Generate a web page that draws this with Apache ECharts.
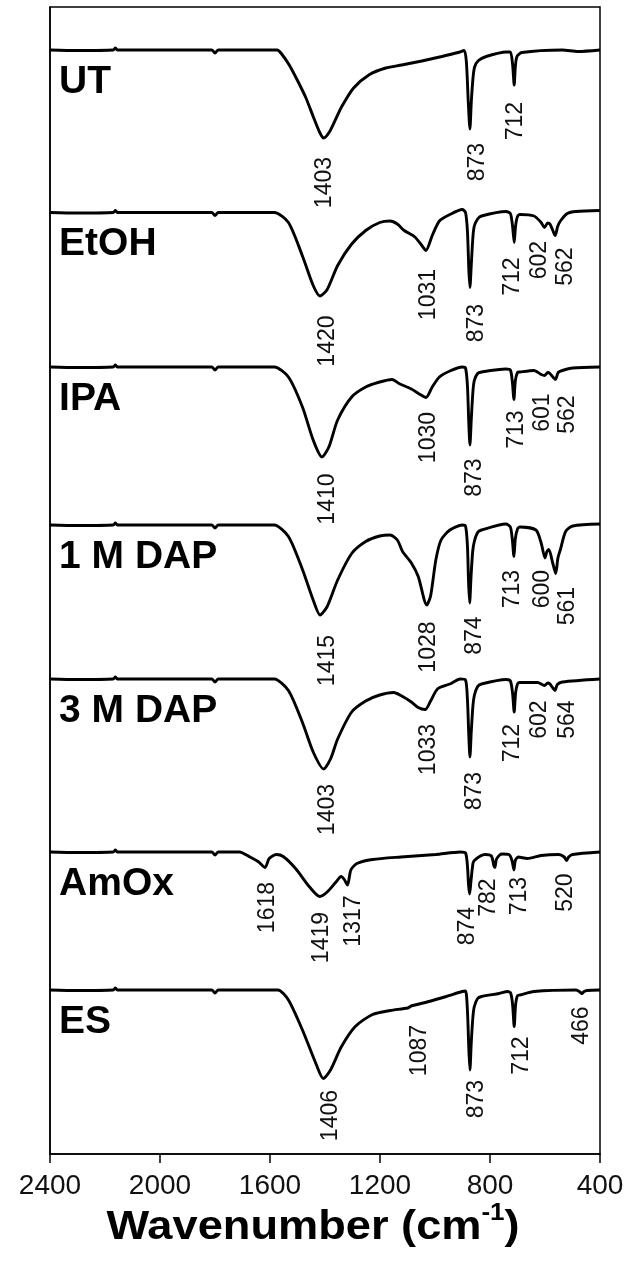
<!DOCTYPE html>
<html>
<head>
<meta charset="utf-8">
<script src="https://cdn.jsdelivr.net/npm/echarts@6/dist/echarts.min.js"></script>
<style>
html,body{margin:0;padding:0;background:#fff;}
#chart{width:630px;height:1266px;}
</style>
</head>
<body>
<div id="chart"></div>
<script>
// ---- data ----
const categories = ['UT', 'EtOH', 'IPA', '1 M DAP', '3 M DAP', 'AmOx', 'ES'];
// vertical offset of each trace (arbitrary transmittance units)
const offsets = [1104, 941.5, 787, 629, 475, 302, 164];
const xTicks = [2400, 2000, 1600, 1200, 800, 400];

// shared flat head of every spectrum: [wavenumber, absorption depth]
const commonHead = [[2400,0],[2300,0.5],[2170,0],[2162,-2],[2155,0],[1812,0],[1800,3],[1788,0]];

const specUT = [[1600,0],[1574,0],[1559,3.5],[1530,15],[1501,30],[1470,47.5],[1443,66.5],[1420,82],[1405,88],[1384,82],[1360,68.5],[1340,57],[1296,38],[1238,24.5],[1179,18],[1121,15],[1048,11],[975,6.5],[916,2.5],[894,0.5],[886,11.5],[879,52],[873,79],[868,52],[862,28.5],[856,17],[842,10.5],[814,6.5],[741,2],[726,2],[718,14],[712,35],[708,17],[702,6.5],[684,2.5],[537,0],[480,1.5],[400,0]];
const specEtOH = [[1600,0],[1584,0],[1533,10],[1482,43.5],[1443,73],[1418,83.5],[1392,77],[1354,53],[1303,31.5],[1252,18],[1201,10],[1163,8.5],[1137,11.5],[1112,18],[1073,24.5],[1048,33],[1033,38],[1010,23],[984,8.5],[946,2],[901,-3],[889,0],[882,19],[877,57],[873,75],[868,52],[862,24],[857,13.5],[845,6.5],[831,3.5],[742,-1],[726,1],[718,13.5],[712,30],[707,13.5],[700,4],[691,2],[640,3.5],[614,10],[602,15],[590,10.5],[582,11.5],[570,19],[563,23],[554,14],[544,8.5],[519,1],[487,-1],[400,-2]];
const specIPA = [[1600,0],[1584,0],[1533,10],[1482,40],[1443,73],[1411,90],[1386,80],[1354,53],[1303,30],[1252,20],[1201,15],[1156,12.5],[1131,16.5],[1086,22],[1054,27.5],[1033,30.5],[1010,20],[984,10],[946,4],[901,0],[889,1],[882,19],[877,57],[873,78],[868,52],[862,24],[857,13.5],[845,6.5],[831,5],[742,2],[726,3],[719,14],[713,32.5],[708,14],[700,5.5],[691,5],[640,3.5],[614,7.5],[601,8.5],[590,5.5],[582,6.5],[570,10.5],[562,12.5],[552,5.5],[537,3.5],[499,1],[400,0]];
const specDAP1 = [[1600,0],[1584,0],[1533,11.5],[1482,44.5],[1443,75],[1418,90],[1392,81.5],[1354,55],[1303,28.5],[1252,16.5],[1201,11],[1163,10],[1137,15],[1118,26.5],[1086,38],[1061,51.5],[1030,80],[1016,71],[997,35],[978,15],[946,5],[901,0],[889,1],[882,21],[878,57],[874,78],[869,52],[863,26.5],[857,16.5],[845,7.5],[831,5],[742,-1],[726,2],[719,14],[713,31.5],[708,14],[700,4],[691,2],[633,5],[614,18],[600,33],[593,26.5],[586,24.5],[572,38],[561,48.5],[553,33],[544,24.5],[525,6.5],[499,1],[400,-1]];
const specDAP3 = [[1600,0],[1584,0],[1533,11.5],[1482,43.5],[1443,73],[1405,90],[1380,80],[1354,60],[1303,33],[1252,22],[1201,16],[1150,13.5],[1124,16.5],[1086,23],[1061,28.5],[1036,30.5],[1016,22],[991,10],[946,5],[908,0],[889,1],[882,21],[877,57],[873,78],[868,52],[862,26.5],[857,16.5],[845,7.5],[831,5],[742,0.5],[726,2],[718,14],[712,33],[707,14],[700,5],[691,3.5],[627,3.5],[602,6.5],[590,4],[582,5],[570,9.5],[564,11.5],[555,5.5],[537,3],[400,0]];
const specAmOx = [[1711,0],[1673,5],[1641,10],[1618,15.5],[1603,6.5],[1577,2.5],[1552,4.5],[1507,16.5],[1456,35],[1419,44.5],[1392,40],[1360,30],[1341,24.5],[1330,27.5],[1318,33],[1306,18],[1284,11.5],[1227,7.5],[1124,5],[997,2.5],[908,0],[889,1],[882,14],[878,33],[874,42],[869,28.5],[862,11.5],[857,8.5],[835,4],[818,2.5],[795,4],[786,13.5],[782,15.5],[777,7.5],[765,3],[755,2],[731,2.5],[720,8.5],[713,18],[708,8.5],[697,5],[665,6.5],[614,3.5],[550,2.5],[530,5],[522,8.5],[514,5],[500,2.5],[400,0]];
const specES = [[1600,0],[1571,0],[1533,10],[1482,40],[1431,75],[1406,88.5],[1380,80],[1341,57],[1290,36.5],[1227,24.5],[1163,20.5],[1099,18],[1087,16],[1022,11.5],[959,6.5],[901,1.5],[889,1],[882,21],[877,59],[873,80],[868,52],[862,26.5],[857,16.5],[845,8.5],[831,6.5],[767,3.5],[735,1.5],[725,3],[718,14],[712,36.5],[707,15],[700,5.5],[691,5],[640,1.5],[487,0],[475,1.5],[466,3.5],[458,1.5],[447,0.5],[400,0]];

// peak labels: [label wavenumber, label-top depth below baseline, text]
const peaksUT = [[1400,107,'1403'],[846,93,'873'],[705,52,'712']];
const peaksEtOH = [[1392,103,'1420'],[1022,56.5,'1031'],[850,91.5,'873'],[716,45,'712'],[621,28.5,'602'],[525,35,'562']];
const peaksIPA = [[1392,106.5,'1410'],[1022,45,'1030'],[857,91.5,'873'],[704,43.5,'713'],[608,26.5,'601'],[519,28.5,'562']];
const peaksDAP1 = [[1392,110,'1415'],[1022,96.5,'1028'],[857,91.5,'874'],[716,45,'713'],[608,45,'600'],[519,62,'561']];
const peaksDAP3 = [[1392,105,'1403'],[1022,45,'1033'],[857,93,'873'],[716,45,'712'],[621,21.5,'602'],[519,21.5,'564']];
const peaksAmOx = [[1609,30,'1618'],[1411,60,'1419'],[1297,43.5,'1317'],[882,55,'874'],[806,26.5,'782'],[691,25,'713'],[525,21.5,'520']];
const peaksES = [[1380,100,'1406'],[1054,35,'1087'],[850,90,'873'],[684,46.5,'712'],[468,16.5,'466']];

const spectra = [specUT, specEtOH, specIPA, specDAP1, specDAP3, specAmOx, specES];
const peaks = [peaksUT, peaksEtOH, peaksIPA, peaksDAP1, peaksDAP3, peaksAmOx, peaksES];
const nameDepth = 32; // sample-name label centre below baseline

// ---- build ----
const FONT = 'Liberation Sans, Arial, Helvetica, sans-serif';
const series = [];
categories.forEach((name, i) => {
  const off = offsets[i];
  const pts = commonHead.concat(spectra[i]).map(p => [p[0], off - p[1]]);
  series.push({
    type: 'line', name: name, data: pts, showSymbol: false, symbol: 'none',
    smooth: 0.25, lineStyle: {color: '#000', width: 2.9}, silent: true, z: 3
  });
  series.push({
    type: 'scatter', data: peaks[i].map(p => [p[0], off - p[1], p[2]]),
    symbolSize: 0, silent: true, z: 4, itemStyle: {color: '#000', opacity: 1},
    label: {
      show: true, position: 'inside', rotate: 90, align: 'right', verticalAlign: 'middle',
      formatter: p => p.value[2], color: '#111', fontSize: 23, textBorderWidth: 0,
      opacity: 1, fontFamily: FONT
    }
  });
  series.push({
    type: 'scatter', data: [[2367, off - nameDepth, name]], symbolSize: 0, silent: true, z: 4,
    itemStyle: {color: '#000', opacity: 1},
    label: {
      show: true, position: 'inside', align: 'left', verticalAlign: 'middle',
      formatter: p => p.value[2], color: '#000', fontSize: 39, fontWeight: 'bold', textBorderWidth: 0,
      opacity: 1, fontFamily: FONT
    }
  });
});

const chart = echarts.init(document.getElementById('chart'), null, {renderer: 'canvas'});
chart.setOption({
  animation: false,
  backgroundColor: '#fff',
  grid: {left: 50, right: 30, top: 7, bottom: 112, show: true, borderColor: '#000', borderWidth: 1.5, backgroundColor: 'transparent'},
  xAxis: {
    type: 'value', min: 400, max: 2400, interval: 400, inverse: true,
    axisLine: {show: true, onZero: false, lineStyle: {color: '#000', width: 1.5}},
    axisTick: {show: true, inside: false, length: 9, lineStyle: {color: '#000', width: 1.5}},
    splitLine: {show: false},
    axisLabel: {color: '#111', fontSize: 28, margin: 18, fontFamily: FONT,
      formatter: v => xTicks.includes(v) ? String(v) : ''}
  },
  yAxis: {
    type: 'value', min: 0, max: 1147, show: true,
    axisLine: {show: true, lineStyle: {color: '#000', width: 1.5}},
    axisTick: {show: false}, axisLabel: {show: false}, splitLine: {show: false}
  },
  graphic: [{
    type: 'text', x: 313, y: 1225, scaleX: 1.13, silent: true,
    style: {
      text: '{a|Wavenumber (cm}{s|-1}{a|)}', align: 'center', verticalAlign: 'middle',
      rich: {
        a: {fontSize: 40, fontWeight: 'bold', fill: '#000', fontFamily: FONT, verticalAlign: 'bottom', lineHeight: 46},
        s: {fontSize: 23, fontWeight: 'bold', fill: '#000', fontFamily: FONT, verticalAlign: 'top', lineHeight: 46}
      }
    }
  }],
  series: series
});
</script>
</body>
</html>
